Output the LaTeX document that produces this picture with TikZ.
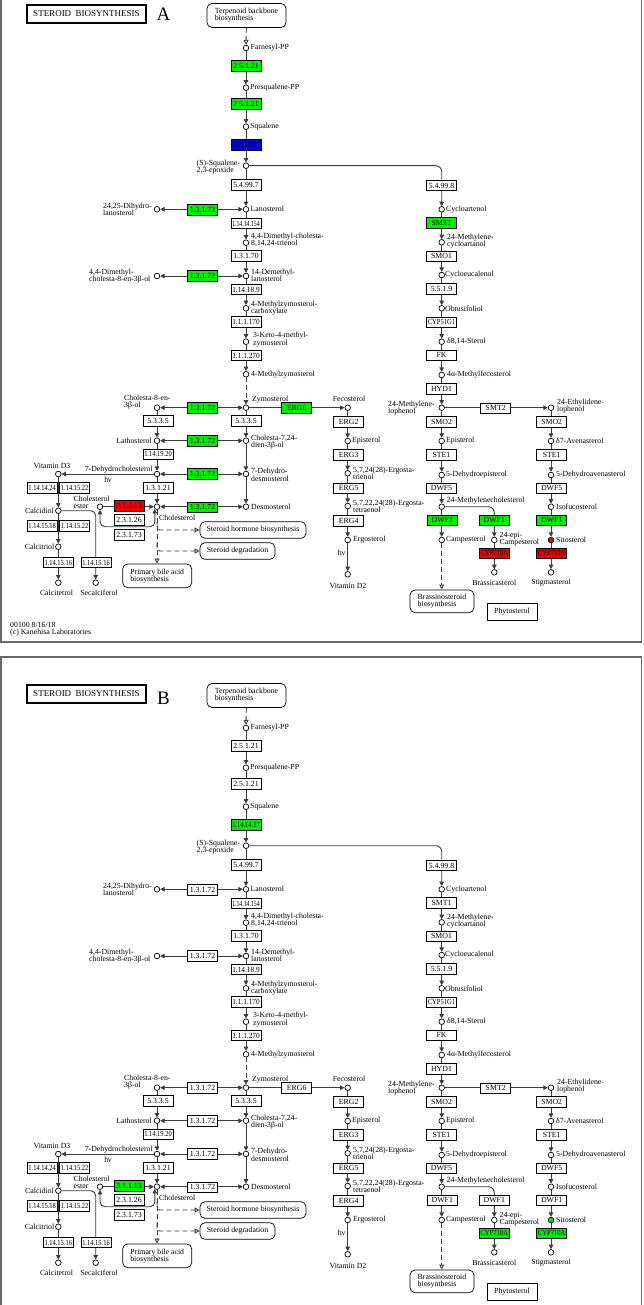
\documentclass[tikz,border=0pt]{standalone}
\usepackage{fontspec}
\setmainfont{Liberation Serif}
\usepackage{graphicx}
\usetikzlibrary{arrows.meta,calc}
\definecolor{kgreen}{RGB}{0,238,0}
\definecolor{kred}{RGB}{238,0,0}
\definecolor{kblue}{RGB}{0,0,230}
\definecolor{kline}{RGB}{60,60,60}
\definecolor{kframe}{RGB}{105,105,105}
\newcommand\ezfit[1]{\sbox0{#1}\ifdim\wd0>27.5pt\relax\resizebox{27.5pt}{\height}{#1}\else#1\fi}
\newcommand\enzbox[4]{\node[enz,fill=#1] (#2) at (#3) {\ezfit{#4}};}
\newcommand\cpdn[2]{\node[cpd] (#1) at (#2) {};}
\newcommand\labn[4]{\node[lbl,anchor=#3] (#1) at (#2) {#4};}
\newcommand\drawpathway[2]{%
% ---- title and map links
\node[titlebox] (title) at (86.5,14) {STEROID\ \ BIOSYNTHESIS};
\node[font=\fontsize{19}{20}\selectfont,inner sep=0pt] (letter) at (163.5,#2) {#1};
\node[mapbox,minimum width=79pt,minimum height=24pt] (terp) at (246.5,15.5) {Terpenoid backbone\\biosynthesis};
\node[mapbox,minimum width=106pt,minimum height=16.6pt] (shb) at (253,530) {Steroid hormone biosynthesis};
\node[mapbox,minimum width=75pt,minimum height=16.6pt] (sdeg) at (237.5,551) {Steroid degradation};
\node[mapbox,minimum width=69pt,minimum height=23.7pt] (pba) at (157.2,575.8) {Primary bile acid\\biosynthesis};
\node[mapbox,minimum width=64pt,minimum height=22.7pt] (brs) at (442,601.3) {Brassinosteroid\\biosynthesis};
\node[mapbox,rounded corners=0pt,minimum width=50pt,minimum height=17pt] (phy) at (512,611.5) {Phytosterol};
% ---- compounds, main column
\cpdn{farn}{246,48}
\cpdn{presq}{246,87.7}
\cpdn{squal}{246,126.7}
\cpdn{sqep}{246,165.7}
\cpdn{lano}{246,209.3}
\cpdn{dmc}{246,242.7}
\cpdn{dml}{246,276}
\cpdn{mzc}{246,308.3}
\cpdn{kmz}{246,341.7}
\cpdn{mz}{246,374.3}
\cpdn{zym}{246,407.7}
\cpdn{c724}{246,440.7}
\cpdn{dhd}{246,474}
\cpdn{desm}{246,506.7}
% left column
\cpdn{dihl}{157,209.3}
\cpdn{dmch}{157,276}
\cpdn{ch8}{157,407.7}
\cpdn{lath}{157,440.7}
\cpdn{dhc}{157,474}
\cpdn{chol}{157,506.7}
\cpdn{ce}{100,506.7}
\cpdn{vd3}{58.3,474}
\cpdn{calcd}{58.3,510.7}
\cpdn{calct}{58.3,546.7}
\cpdn{calctet}{58.3,582.7}
\cpdn{secal}{95.7,582.7}
% fecosterol column
\cpdn{fec}{347.7,407.7}
\cpdn{epi1}{347.7,441}
\cpdn{erg3p}{347.7,473.3}
\cpdn{erg5p}{347.7,506}
\cpdn{ergost}{347.7,540}
\cpdn{vd2}{347.7,574.3}
% plant column
\cpdn{cyc}{441.7,209.3}
\cpdn{mca}{441.7,242.3}
\cpdn{ceu}{441.7,275}
\cpdn{obt}{441.7,308.3}
\cpdn{d814}{441.7,341.7}
\cpdn{mfec}{441.7,375}
\cpdn{mlo}{441.7,407.7}
\cpdn{epi2}{441.7,441}
\cpdn{dhe}{441.7,475}
\cpdn{mchol}{441.7,506.7}
\cpdn{camp}{441.7,540}
\cpdn{epic}{494.3,540}
\cpdn{bras}{494.3,572.3}
\cpdn{elo}{551,407.7}
\cpdn{aven}{551,441}
\cpdn{dha}{551,475}
\cpdn{iso}{551,506.7}
\node[cpd,fill=\cSito] (sito) at (551,540) {};
\cpdn{stig}{551,572.3}
% ---- labels
\labn{lfarn}{250.5,48}{west}{Farnesyl-PP}
\labn{lpresq}{250,87.7}{west}{Presqualene-PP}
\labn{lsqual}{250,126.7}{west}{Squalene}
\labn{lsqep}{196.5,167}{west}{(S)-Squalene-\\2,3-epoxide}
\labn{llano}{250.5,209.3}{west}{Lanosterol}
\labn{ldihl}{103,209.5}{west}{24,25-Dihydro-\\lanosterol}
\labn{ldmc}{251,240}{west}{4,4-Dimethyl-cholesta-\\8,14,24-trienol}
\labn{ldml}{251,275}{west}{14-Demethyl-\\lanosterol}
\labn{ldmch}{89,276}{west}{4,4-Dimethyl-\\cholesta-8-en-3β-ol}
\labn{lmzc}{251,308}{west}{4-Methylzymosterol-\\carboxylate}
\labn{lkmz}{253,339.5}{west}{3-Keto-4-methyl-\\zymosterol}
\labn{lmz}{251,374.5}{west}{4-Methylzymosterol}
\labn{lzym}{252,399.5}{west}{Zymosterol}
\labn{lch8}{124,402}{west}{Cholesta-8-en-\\3β-ol}
\labn{lc724}{251,442}{west}{Cholesta-7,24-\\dien-3β-ol}
\labn{llath}{152,440.7}{east}{Lathosterol}
\labn{ldhc}{153,469.5}{east}{7-Dehydrocholesterol}
\labn{lhv1}{108,479.5}{center}{hν}
\labn{ldhd}{251,474.7}{west}{7-Dehydro-\\desmosterol}
\labn{lvd3}{52,466}{center}{Vitamin D3}
\labn{lchol}{159,517.5}{west}{Cholesterol}
\labn{ldesm}{251,506.7}{west}{Desmosterol}
\labn{lce}{73.5,502}{west}{Cholesterol\\ester}
\labn{lcalcd}{54,510.7}{east}{Calcidiol}
\labn{lcalct}{54.5,546.7}{east}{Calcitriol}
\labn{lcalctet}{56.5,593}{center}{Calcitetrol}
\labn{lsecal}{99,593}{center}{Secalciferol}
\labn{lcyc}{446,209.3}{west}{Cycloartenol}
\labn{lmca}{447,240.8}{west}{24-Methylene-\\cycloartanol}
\labn{lceu}{445,275}{west}{Cycloeucalenol}
\labn{lobt}{445,308.3}{west}{Obtusifoliol}
\labn{ld814}{447,341.7}{west}{δ8,14-Sterol}
\labn{lmfec}{447,375}{west}{4α-Methylfecosterol}
\labn{lmlo}{388,408}{west}{24-Methylene-\\lophenol}
\labn{lelo}{557,406}{west}{24-Ethylidene-\\lophenol}
\labn{lepi2}{446,441}{west}{Episterol}
\labn{laven}{556,441}{west}{δ7-Avenasterol}
\labn{ldhe}{446,475}{west}{5-Dehydroepisterol}
\labn{ldha}{556,475}{west}{5-Dehydroavenasterol}
\labn{lmchol}{446.5,501}{west}{24-Methylenecholesterol}
\labn{liso}{556,506.7}{west}{Isofucosterol}
\labn{lcamp}{446,540}{west}{Campesterol}
\labn{lepic}{499.5,539}{west}{24-epi-\\Campesterol}
\labn{lsito}{556,540}{west}{Sitosterol}
\labn{lbras}{494.3,582.5}{center}{Brassicasterol}
\labn{lstig}{551,582.5}{center}{Stigmasterol}
\labn{lfec}{349,399}{center}{Fecosterol}
\labn{lepi1}{352,441}{west}{Episterol}
\labn{lerg3p}{353,473}{west}{5,7,24(28)-Ergosta-\\trienol}
\labn{lerg5p}{353,506.3}{west}{5,7,22,24(28)-Ergosta-\\tetraenol}
\labn{lergost}{353,540}{west}{Ergosterol}
\labn{lhv2}{341.5,553}{center}{hν}
\labn{lvd2}{348,585.5}{center}{Vitamin D2}
% ---- connectors
\draw[openarr] (terp) -- (farn);
\draw[arr] (farn) -- (presq);
\draw[arr] (presq) -- (squal);
\draw[arr] (squal) -- (sqep);
\draw[arr] (sqep) -- (lano);
\draw[arr,rounded corners=6pt] (sqep) -- (sqep -| cyc) -- (cyc);
\draw[biarr] (dihl) -- (lano);
\draw[arr] (lano) -- (dmc);
\draw[arr] (dmc) -- (dml);
\draw[biarr] (dmch) -- (dml);
\draw[arr] (dml) -- (mzc);
\draw[arr] (mzc) -- (kmz);
\draw[arr] (kmz) -- (mz);
\draw[arr,dash pattern=on 5pt off 3pt] (mz) -- (zym);
\draw[biarr] (ch8) -- (zym);
\draw[arr] (zym) -- (fec);
\draw[arr] (zym) -- (c724);
\draw[arr] (ch8) -- (lath);
\draw[biarr] (lath) -- (c724);
\draw[arr] (lath) -- (dhc);
\draw[arr] (c724) -- (dhd);
\draw[biarr] (dhc) -- (dhd);
\draw[arr] (dhc) -- (chol);
\draw[arr] (dhd) -- (desm);
\draw[biarr] (chol) -- (desm);
\draw[arr] (ce) -- (chol);
\coordinate (lpA) at (100,526.7);
\coordinate (lpB) at (155,526.7);
\draw[biarr,rounded corners=5pt] (ce.south) -- (lpA) -- (lpB) -- (chol.south west);
\draw[openarr] (chol.south) -- (chol.south |- pba.north);
\coordinate (brA) at (157,522);
\coordinate (brB) at (157,543);
\draw[openarr,rounded corners=3pt] (brA) |- (shb.west);
\draw[openarr,rounded corners=3pt] (brB) |- (sdeg.west);
\draw[arr] (dhc) -- (vd3);
\draw[arr] (vd3) -- (calcd);
\draw[arr] (calcd) -- (calct);
\draw[arr] (calct) -- (calctet);
\draw[arr,rounded corners=5pt] (calcd) -- (calcd -| secal) -- (secal);
\draw[arr] (fec) -- (epi1);
\draw[arr] (epi1) -- (erg3p);
\draw[arr] (erg3p) -- (erg5p);
\draw[arr] (erg5p) -- (ergost);
\draw[arr] (ergost) -- (vd2);
\draw[arr] (cyc) -- (mca);
\draw[arr] (mca) -- (ceu);
\draw[arr] (ceu) -- (obt);
\draw[arr] (obt) -- (d814);
\draw[arr] (d814) -- (mfec);
\draw[arr] (mfec) -- (mlo);
\draw[arr] (mlo) -- (elo);
\draw[arr] (mlo) -- (epi2);
\draw[arr] (epi2) -- (dhe);
\draw[arr] (dhe) -- (mchol);
\draw[arr] (mchol) -- (camp);
\draw[arr,rounded corners=6pt] (mchol) -- (mchol -| epic) -- (epic);
\draw[arr] (epic) -- (bras);
\draw[openarr] (camp) -- (camp |- brs.north);
\draw[arr] (elo) -- (aven);
\draw[arr] (aven) -- (dha);
\draw[arr] (dha) -- (iso);
\draw[arr] (iso) -- (sito);
\draw[arr] (sito) -- (stig);
% ---- enzymes
\enzbox{\cE}{e1}{246,66}{2.5.1.21}
\enzbox{\cE}{e2}{246,104}{2.5.1.21}
\enzbox{\cSq}{e3}{246,145}{1.14.14.17}
\enzbox{white}{e4}{246,185}{5.4.99.7}
\enzbox{\cR}{e5}{202.5,210}{1.3.1.72}
\enzbox{white}{e6}{246,223.5}{1.14.14.154}
\enzbox{white}{e7}{246,256}{1.3.1.70}
\enzbox{\cR}{e8}{202.5,276}{1.3.1.72}
\enzbox{white}{e9}{246,289.5}{1.14.18.9}
\enzbox{white}{e10}{246,322}{1.1.1.170}
\enzbox{white}{e11}{246,355.5}{1.1.1.270}
\enzbox{\cR}{e12}{202.5,408}{1.3.1.72}
\enzbox{\cERG}{e13}{296.7,407.8}{ERG6}
\enzbox{white}{e14}{158,421}{5.3.3.5}
\enzbox{white}{e15}{246,421}{5.3.3.5}
\enzbox{\cR}{e16}{202.5,441}{1.3.1.72}
\enzbox{white}{e17}{158,454.3}{1.14.19.20}
\enzbox{\cR}{e18}{202.5,474}{1.3.1.72}
\enzbox{white}{e19}{158,487.7}{1.3.1.21}
\enzbox{\cR}{e20}{202.5,507.3}{1.3.1.72}
\enzbox{\cCE}{e21}{129,505.8}{3.1.1.13}
\enzbox{white}{e22}{129,519.7}{2.3.1.26}
\enzbox{white}{e23}{129,534.7}{2.3.1.73}
\enzbox{white}{e24}{42.2,487.7}{1.14.14.24}
\enzbox{white}{e25}{74.7,487.7}{1.14.15.22}
\enzbox{white}{e26}{42.2,525.8}{1.14.15.18}
\enzbox{white}{e27}{74.7,525.8}{1.14.15.22}
\enzbox{white}{e28}{58.3,562.5}{1.14.15.16}
\enzbox{white}{e29}{96,562.5}{1.14.15.16}
\enzbox{white}{e30}{348.7,422}{ERG2}
\enzbox{white}{e31}{348.7,455}{ERG3}
\enzbox{white}{e32}{348.7,488.3}{ERG5}
\enzbox{white}{e33}{348.7,520.7}{ERG4}
\enzbox{white}{e34}{441.5,185.5}{5.4.99.8}
\enzbox{\cSMT}{e35}{441.5,223}{SMT1}
\enzbox{white}{e36}{441.5,256.3}{SMO1}
\enzbox{white}{e37}{441.5,288.8}{5.5.1.9}
\enzbox{white}{e38}{441.5,322.3}{CYP51G1}
\enzbox{white}{e39}{441.5,355.3}{FK}
\enzbox{white}{e40}{441.5,388.7}{HYD1}
\enzbox{white}{e41}{495.7,408.3}{SMT2}
\enzbox{white}{e42}{441.5,422}{SMO2}
\enzbox{white}{e43}{551.7,422}{SMO2}
\enzbox{white}{e44}{441.5,455}{STE1}
\enzbox{white}{e45}{551.7,455}{STE1}
\enzbox{white}{e46}{441.5,488.3}{DWF5}
\enzbox{white}{e47}{551.7,488.3}{DWF5}
\enzbox{\cDWF}{e48}{442.3,520.3}{DWF1}
\enzbox{\cDWF}{e49}{494.3,520.3}{DWF1}
\enzbox{\cDWF}{e50}{551.7,520.3}{DWF1}
\enzbox{\cCYP}{e51}{494.3,553.3}{CYP710A}
\enzbox{\cCYP}{e52}{551.7,553.3}{CYP710A}
% ---- frame
\draw[frame] (1,-23) rectangle (641.5,642);
}
\begin{document}
\begin{tikzpicture}[x=1pt,y=-1pt,
  ln/.style={draw=kline,line width=0.9pt},
  arr/.style={ln,-{Triangle[length=4.5pt,width=4.6pt]}},
  biarr/.style={ln,{Triangle[length=4.5pt,width=4.6pt]}-{Triangle[length=4.5pt,width=4.6pt]}},
  openarr/.style={ln,dash pattern=on 5pt off 3pt,-{Triangle[open,length=5pt,width=5pt]}},
  cpd/.style={circle,draw=black,fill=white,minimum size=5.6pt,inner sep=0pt,line width=0.7pt},
  enz/.style={draw=black,line width=0.7pt,minimum width=30pt,minimum height=10.6pt,inner sep=0pt,font=\fontsize{7.8}{8}\selectfont},
  lbl/.style={font=\fontsize{7.8}{7.3}\selectfont,inner sep=0pt,align=left},
  mapbox/.style={draw=black,line width=0.7pt,rounded corners=5pt,inner sep=0pt,align=left,fill=white,font=\fontsize{7.8}{7.2}\selectfont},
  titlebox/.style={draw=black,line width=1.3pt,minimum width=119pt,minimum height=18pt,inner sep=0pt,font=\fontsize{9}{10}\selectfont},
  frame/.style={draw=kframe,line width=1.6pt}]
\clip (0,0) rectangle (644,1305);
\fill[white] (0,0) rectangle (644,1305);
\begin{scope}[name prefix=A-]
\def\cE{kgreen}\def\cSq{kblue}\def\cR{kgreen}\def\cERG{kgreen}\def\cSMT{kgreen}
\def\cDWF{kgreen}\def\cCE{kred}\def\cCYP{kred}\def\cSito{kred}
\drawpathway{A}{14.5}
\node[lbl,anchor=west] (footer) at (10,629) {00100 8/16/18\\(c) Kanehisa Laboratories};
\end{scope}
\begin{scope}[yshift=-680pt,name prefix=B-]
\def\cE{white}\def\cSq{kgreen}\def\cR{white}\def\cERG{white}\def\cSMT{white}
\def\cDWF{white}\def\cCE{kgreen}\def\cCYP{kgreen}\def\cSito{kgreen}
\drawpathway{B}{18.4}
\end{scope}
\end{tikzpicture}
\end{document}
